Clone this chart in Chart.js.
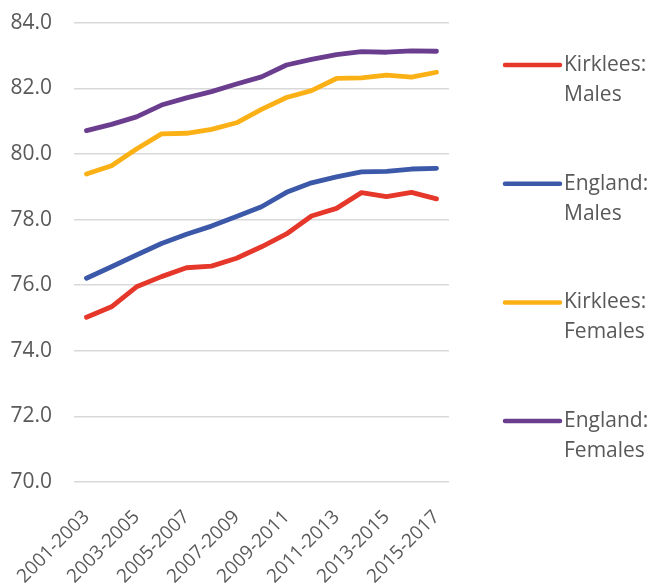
<!DOCTYPE html>
<html>
<head>
<meta charset="utf-8">
<script src="https://cdn.jsdelivr.net/npm/chart.js@4/dist/chart.umd.min.js"></script>
<style>
  html, body { margin: 0; padding: 0; background: #ffffff; }
  #wrap { position: relative; width: 648px; height: 586px; }
</style>
</head>
<body>
<div id="wrap"><canvas id="life-chart"></canvas></div>
<script>
// three-year rolling periods
const periods = [
  "2001-2003", "2002-2004", "2003-2005", "2004-2006", "2005-2007",
  "2006-2008", "2007-2009", "2008-2010", "2009-2011", "2010-2012",
  "2011-2013", "2012-2014", "2013-2015", "2014-2016", "2015-2017"
];

// life expectancy at birth (years)
const kirkleesMales   = [75.02, 75.34, 75.95, 76.26, 76.53, 76.58, 76.82, 77.17, 77.56, 78.11, 78.34, 78.82, 78.70, 78.83, 78.63];
const englandMales    = [76.21, 76.56, 76.92, 77.27, 77.55, 77.80, 78.09, 78.39, 78.83, 79.12, 79.30, 79.45, 79.47, 79.54, 79.56];
const kirkleesFemales = [79.39, 79.64, 80.15, 80.61, 80.63, 80.75, 80.95, 81.36, 81.72, 81.93, 82.30, 82.32, 82.40, 82.34, 82.49];
const englandFemales  = [80.71, 80.90, 81.13, 81.49, 81.71, 81.90, 82.13, 82.35, 82.71, 82.88, 83.03, 83.12, 83.10, 83.14, 83.13];

const seriesNames = ["Kirklees: Males", "England: Males", "Kirklees: Females", "England: Females"];
const seriesColors = ["#E5372A", "#3C58A8", "#FBB116", "#6B3D8F"];

const yMin = 70;
const yMax = 84;
const yStep = 2;

const textGrey = "#595959";
const fontFamily = "'Open Sans', 'Noto Sans', sans-serif";

// legend on the right, one entry per series, label broken after the colon
const sideLegend = {
  id: "sideLegend",
  afterDraw(chart) {
    const ctx = chart.ctx;
    const area = chart.chartArea;
    const x0 = area.right + 56;
    const x1 = x0 + 55;
    ctx.save();
    ctx.font = "21px " + fontFamily;
    ctx.textBaseline = "middle";
    ctx.textAlign = "left";
    chart.data.datasets.forEach((ds, i) => {
      const y = 65 + i * 118.7;
      ctx.strokeStyle = ds.borderColor;
      ctx.lineWidth = 4.5;
      ctx.lineCap = "round";
      ctx.beginPath();
      ctx.moveTo(x0, y);
      ctx.lineTo(x1, y);
      ctx.stroke();
      const parts = ds.label.split(": ");
      ctx.fillStyle = textGrey;
      ctx.fillText(parts[0] + ":", x1 + 4, y);
      ctx.fillText(parts[1], x1 + 4, y + 30);
    });
    ctx.restore();
  }
};

const seriesData = [kirkleesMales, englandMales, kirkleesFemales, englandFemales];

const datasets = seriesData.map((values, i) => ({
  label: seriesNames[i],
  data: values,
  borderColor: seriesColors[i],
  backgroundColor: seriesColors[i],
  borderWidth: 4.8,
  borderCapStyle: "round",
  borderJoinStyle: "round",
  pointRadius: 0,
  tension: 0,
  fill: false
}));

const ctx = document.getElementById("life-chart").getContext("2d");

new Chart(ctx, {
  type: "line",
  data: { labels: periods, datasets: datasets },
  plugins: [sideLegend],
  options: {
    responsive: true,
    maintainAspectRatio: false,
    animation: false,
    layout: { padding: { left: 0, right: 199, top: 0, bottom: 0 } },
    plugins: {
      legend: { display: false },
      tooltip: { enabled: false }
    },
    scales: {
      x: {
        offset: true,
        grid: { display: false, drawTicks: false },
        border: { display: false },
        afterFit: function (scale) {
          // fixed band for the slanted period labels
          scale.height = 104;
          scale.paddingLeft = 0;
          scale.paddingRight = 0;
        },
        ticks: {
          autoSkip: false,
          maxRotation: 45,
          minRotation: 45,
          padding: 24,
          color: textGrey,
          font: { size: 19, family: fontFamily },
          callback: function (value, index) {
            return index % 2 === 0 ? periods[index] : null;
          }
        }
      },
      y: {
        min: yMin,
        max: yMax,
        grid: { color: "#D9D9D9", lineWidth: 1.5, drawTicks: false },
        border: { display: false },
        afterFit: function (scale) {
          scale.width = 74;
          scale.paddingTop = 22.7;
          scale.paddingBottom = 0;
        },
        ticks: {
          stepSize: yStep,
          padding: 22,
          color: textGrey,
          font: { size: 21, family: fontFamily },
          callback: function (value) {
            return value.toFixed(1);
          }
        }
      }
    }
  }
});
</script>
</body>
</html>
